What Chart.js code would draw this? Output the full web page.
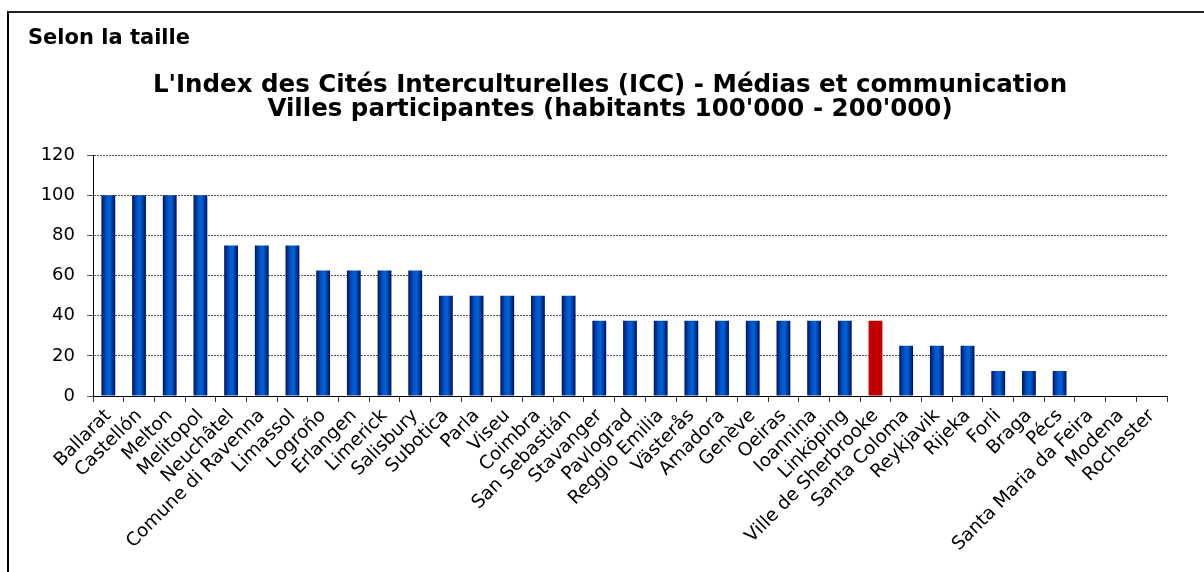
<!DOCTYPE html>
<html>
<head>
<meta charset="utf-8">
<script src="https://cdn.jsdelivr.net/npm/chart.js@4.4.1/dist/chart.umd.min.js"></script>
<style>
  html, body { margin: 0; padding: 0; background: #fff; overflow: hidden; }
  #cadre { position: absolute; left: 7px; top: 11px; width: 1400px; height: 800px;
           border-left: 2px solid #000; border-top: 2px solid #222; }
  #zone { position: absolute; left: 0; top: 0; width: 1204px; height: 572px; }
</style>
</head>
<body>
<div id="cadre"></div>
<div id="zone"><canvas id="iccChart"></canvas></div>
<script>
// données
const villes = [
  'Ballarat', 'Castellón', 'Melton', 'Melitopol', 'Neuchâtel', 'Comune di Ravenna',
  'Limassol', 'Logroño', 'Erlangen', 'Limerick', 'Salisbury', 'Subotica', 'Parla',
  'Viseu', 'Coimbra', 'San Sebastián', 'Stavanger', 'Pavlograd', 'Reggio Emilia',
  'Västerås', 'Amadora', 'Genève', 'Oeiras', 'Ioannina', 'Linköping',
  'Ville de Sherbrooke', 'Santa Coloma', 'Reykjavik', 'Rijeka', 'Forli', 'Braga',
  'Pécs', 'Santa Maria da Feira', 'Modena', 'Rochester'
];
const scores = [
  100, 100, 100, 100, 75, 75, 75, 62.5, 62.5, 62.5, 62.5, 50, 50, 50, 50, 50,
  37.5, 37.5, 37.5, 37.5, 37.5, 37.5, 37.5, 37.5, 37.5, 37.5,
  25, 25, 25, 12.5, 12.5, 12.5, 0, 0, 0
];
const yTicks = [0, 20, 40, 60, 80, 100, 120];
const villeEnAvant = 'Ville de Sherbrooke';

const FONT = "'DejaVu Sans', sans-serif";
const BAR_PCT = 0.45;

// dégradé horizontal "cylindre" pour chaque barre
function couleurBarre(c) {
  if (villes[c.dataIndex] === villeEnAvant) return '#c00000';
  const chart = c.chart;
  const xs = chart.scales.x;
  if (!xs || !chart.chartArea) return '#0050c0';
  const cx = xs.getPixelForValue(c.dataIndex);
  const w = xs.width / villes.length * BAR_PCT;
  const g = chart.ctx.createLinearGradient(cx - w / 2, 0, cx + w / 2, 0);
  g.addColorStop(0, '#000f50');
  g.addColorStop(0.15, '#00309a');
  g.addColorStop(0.4, '#0058c8');
  g.addColorStop(0.6, '#0062d4');
  g.addColorStop(0.85, '#002f90');
  g.addColorStop(1, '#000f50');
  return g;
}

const ctx = document.getElementById('iccChart').getContext('2d');
new Chart(ctx, {
  type: 'bar',
  data: {
    labels: villes,
    datasets: [{
      data: scores,
      backgroundColor: couleurBarre,
      borderWidth: 0,
      barPercentage: BAR_PCT,
      categoryPercentage: 1
    }]
  },
  options: {
    responsive: true,
    maintainAspectRatio: false,
    animation: false,
    layout: { padding: { left: 28, right: 12, top: 0, bottom: 0 } },
    plugins: {
      legend: { display: false },
      tooltip: { enabled: false },
      title: {
        display: true,
        text: 'Selon la taille',
        align: 'start',
        color: '#000',
        font: { family: FONT, size: 21, weight: 'bold', lineHeight: 1.2 },
        padding: { top: 26, bottom: 0 }
      },
      subtitle: {
        display: true,
        text: [
          "L'Index des Cités Interculturelles (ICC) - Médias et communication",
          "Villes participantes (habitants 100'000 - 200'000)"
        ],
        color: '#000',
        font: { family: FONT, size: 24.5, weight: 'bold', lineHeight: 0.96 },
        padding: { top: 23, bottom: 34 }
      }
    },
    scales: {
      x: {
        afterFit: s => { s.height = 176; },
        grid: {
          display: true, offset: true, drawOnChartArea: false,
          drawTicks: true, tickLength: 6, color: '#333'
        },
        border: { display: true, color: '#000', width: 1 },
        ticks: {
          color: '#000',
          font: { family: FONT, size: 18.5 },
          minRotation: 45, maxRotation: 45, autoSkip: false, padding: 3
        }
      },
      y: {
        min: 0,
        max: 120,
        afterBuildTicks: s => { s.ticks = yTicks.map(v => ({ value: v })); },
        afterFit: s => { s.width = 65; },
        grid: { color: '#555', lineWidth: 1, drawTicks: true, tickLength: 6, tickColor: '#555' },
        border: { display: true, color: '#000', width: 1, dash: [2, 1] },
        ticks: { color: '#000', font: { family: FONT, size: 18 }, padding: 12 }
      },
      // axe vide à droite, sert seulement à caler la zone de tracé
      y2: {
        position: 'right',
        display: true,
        min: 0,
        max: 1,
        grid: { display: false },
        border: { display: false },
        ticks: { display: false },
        afterFit: s => { s.width = 25; }
      }
    }
  }
});
</script>
</body>
</html>
